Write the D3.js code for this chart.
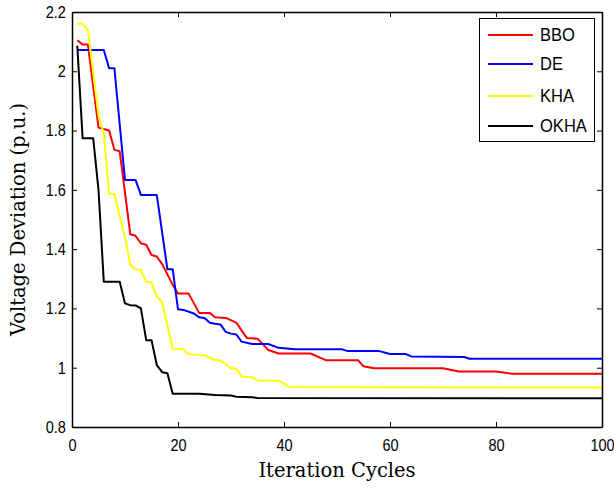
<!DOCTYPE html>
<html>
<head>
<meta charset="utf-8">
<script src="https://cdn.jsdelivr.net/npm/d3@7"></script>
<style>
  body { margin: 0; background: #fff; }
  svg { display: block; }
</style>
</head>
<body>
<svg id="chart"></svg>
<script>
// iteration / value break points
const bboPts = [[1,2.105],[2,2.09],[3,2.09],[5,1.81],[7,1.80],[8,1.735],[9,1.73],[11,1.45],[12,1.445],
  [13,1.42],[14,1.415],[15,1.38],[16,1.375],[17,1.35],[18,1.315],[19,1.28],[20,1.25],[22,1.25],
  [24,1.185],[26,1.185],[27,1.17],[29,1.168],[31,1.152],[33,1.10],[35,1.098],[37,1.06],[39,1.048],
  [45,1.048],[48,1.025],[54,1.025],[55,1.005],[57,0.998],[70,0.998],[73,0.987],[80,0.987],[83,0.98],[100,0.98]];
const dePts = [[1,2.072],[6,2.072],[7,2.01],[8,2.01],[10,1.633],[12,1.633],[13,1.583],[16,1.583],
  [18,1.332],[19,1.332],[20,1.197],[21,1.195],[23,1.183],[24,1.17],[25,1.168],[26,1.152],[27,1.148],
  [28,1.146],[29,1.121],[30,1.115],[31,1.112],[32,1.088],[34,1.08],[37,1.08],[39,1.067],[41,1.064],
  [42,1.062],[51,1.062],[52,1.056],[58,1.056],[60,1.046],[63,1.046],[64,1.038],[74,1.036],[75,1.03],[100,1.03]];
const khaPts = [[1,2.16],[2,2.16],[3,2.14],[5,1.85],[6,1.79],[7,1.588],[8,1.585],[10,1.44],[11,1.346],
  [12,1.332],[13,1.33],[14,1.29],[15,1.288],[16,1.24],[17,1.22],[19,1.065],[21,1.063],[22,1.045],
  [25,1.042],[27,1.026],[28,1.025],[30,0.998],[31,0.997],[32,0.97],[34,0.968],[35,0.957],[39,0.956],
  [41,0.935],[100,0.933]];
const okhaPts = [[1,2.086],[2,1.774],[4,1.774],[5,1.6],[6,1.29],[9,1.29],[10,1.217],[11,1.211],[12,1.21],
  [13,1.2],[14,1.093],[15,1.093],[16,1.009],[17,0.985],[18,0.981],[19,0.912],[24,0.912],[27,0.908],
  [30,0.906],[31,0.902],[34,0.9],[35,0.898],[100,0.897]];

const seriesNames = ['BBO', 'DE', 'KHA', 'OKHA'];
const seriesColors = ['#ff0000', '#0000ff', '#ffff00', '#000000'];
const seriesData = [bboPts, dePts, khaPts, okhaPts];

const xTicks = [0, 20, 40, 60, 80, 100];
const yTicks = [0.8, 1, 1.2, 1.4, 1.6, 1.8, 2, 2.2];

const W = 614, H = 488;
const margin = {top: 12, right: 12, bottom: 61, left: 72};

const svg = d3.select('#chart').attr('width', W).attr('height', H);

const x = d3.scaleLinear([0, 100], [margin.left, W - margin.right]);
const y = d3.scaleLinear([0.8, 2.2], [H - margin.bottom, margin.top]);

const tickFont = '16.5px "Liberation Sans", Arial, sans-serif';

// lines (clipped to the plot)
svg.append('clipPath').attr('id', 'clip')
  .append('rect')
  .attr('x', x(0)).attr('y', y(2.2))
  .attr('width', x(100) - x(0)).attr('height', y(0.8) - y(2.2));

const line = d3.line().x(d => x(d[0])).y(d => y(d[1]));

svg.append('g').attr('clip-path', 'url(#clip)')
  .selectAll('path')
  .data(seriesData)
  .join('path')
  .attr('fill', 'none')
  .attr('stroke', (d, i) => seriesColors[i])
  .attr('stroke-width', 2)
  .attr('stroke-linejoin', 'round')
  .attr('d', line);

// axes, matlab style: ticks inside, mirrored on top and right
const tickLen = 5;
const xAxis = d3.axisBottom(x).tickValues(xTicks).tickSizeInner(-tickLen).tickSizeOuter(0).tickPadding(9).tickFormat(d3.format('d'));
const yAxis = d3.axisLeft(y).tickValues(yTicks).tickSizeInner(-tickLen).tickSizeOuter(0).tickPadding(7).tickFormat(d => d3.format('~g')(d));

const gx = svg.append('g').attr('transform', `translate(0,${y(0.8)})`).call(xAxis);
const gy = svg.append('g').attr('transform', `translate(${x(0)},0)`).call(yAxis);
const gxTop = svg.append('g').attr('transform', `translate(0,${y(2.2)})`)
  .call(d3.axisTop(x).tickValues(xTicks).tickSizeInner(-tickLen).tickSizeOuter(0).tickFormat(''));
const gyRight = svg.append('g').attr('transform', `translate(${x(100)},0)`)
  .call(d3.axisRight(y).tickValues(yTicks).tickSizeInner(-tickLen).tickSizeOuter(0).tickFormat(''));

[gx, gy, gxTop, gyRight].forEach(g => {
  g.select('.domain').attr('stroke', '#000').attr('stroke-width', 1.5);
  g.selectAll('.tick line').attr('stroke', '#000').attr('stroke-width', 1);
  g.selectAll('.tick text').style('font', tickFont).attr('fill', '#000')
    .attr('transform', 'scale(0.88,1)');
});
gx.selectAll('.tick text').attr('dy', '0.9em');

// axis titles
svg.append('text')
  .attr('x', (x(0) + x(100)) / 2)
  .attr('y', 477)
  .attr('text-anchor', 'middle')
  .style('font', '19.5px "DejaVu Serif", serif')
  .text('Iteration Cycles');

svg.append('text')
  .attr('transform', `translate(25,${(y(0.8) + y(2.2)) / 2}) rotate(-90)`)
  .attr('text-anchor', 'middle')
  .style('font', '19.5px "DejaVu Serif", serif')
  .text('Voltage Deviation (p.u.)');

// legend
const legend = svg.append('g');
legend.append('rect')
  .attr('x', 479.5).attr('y', 18.5)
  .attr('width', 115).attr('height', 123)
  .attr('fill', '#fff').attr('stroke', '#000').attr('stroke-width', 1);

const legendRows = [35, 64, 96, 126];
seriesNames.forEach((name, i) => {
  legend.append('line')
    .attr('x1', 488).attr('x2', 533)
    .attr('y1', legendRows[i]).attr('y2', legendRows[i])
    .attr('stroke', seriesColors[i]).attr('stroke-width', 2);
  legend.append('text')
    .attr('x', 540).attr('y', legendRows[i])
    .attr('dy', '0.36em')
    .attr('transform', `translate(540,0) scale(0.92,1) translate(-540,0)`)
    .style('font', '18px "Liberation Sans", Arial, sans-serif')
    .text(name);
});
</script>
</body>
</html>
